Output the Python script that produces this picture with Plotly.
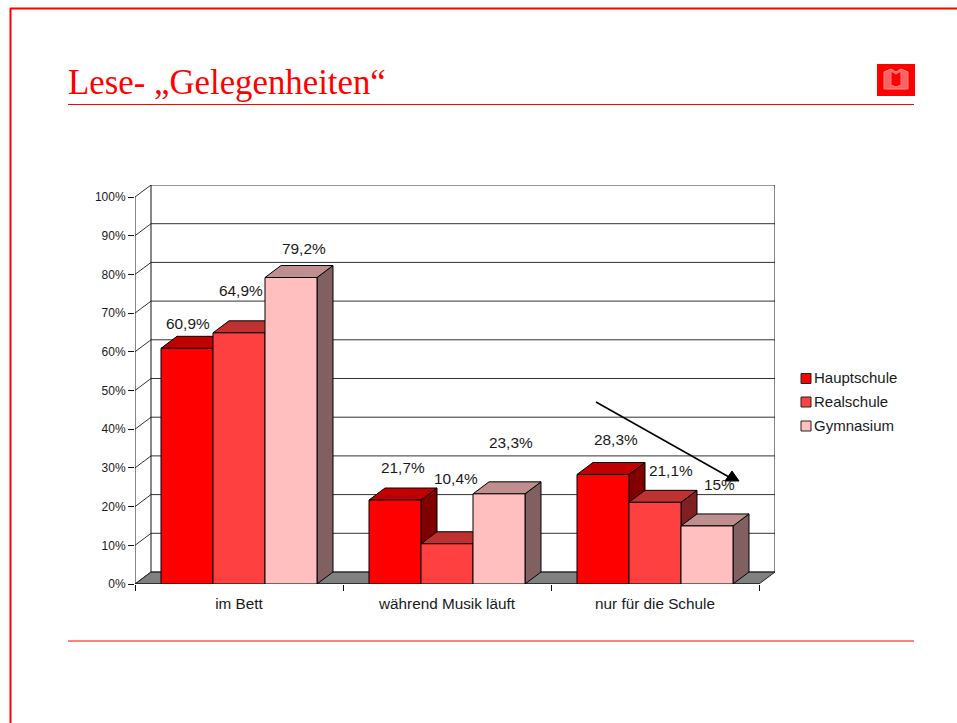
import plotly.graph_objects as go

# ---- chart values ----
categories = ["im Bett", "während Musik läuft", "nur für die Schule"]
series_names = ["Hauptschule", "Realschule", "Gymnasium"]
hauptschule = [60.9, 21.7, 28.3]
realschule = [64.9, 10.4, 21.1]
gymnasium = [79.2, 23.3, 15.0]
label_texts = [
    ["60,9%", "21,7%", "28,3%"],
    ["64,9%", "10,4%", "21,1%"],
    ["79,2%", "23,3%", "15%"],
]
y_ticks = list(range(0, 101, 10))
y_tick_labels = ["0%", "10%", "20%", "30%", "40%", "50%", "60%", "70%", "80%", "90%", "100%"]

# ---- styles ----
front_colors = ["#FF0000", "#FF4040", "#FFBFBF"]
top_colors = ["#C00000", "#BF3030", "#BF8F8F"]
side_colors = ["#800000", "#802020", "#806060"]
label_dx = [[1, 8, 13], [2, 9, 16], [13, 12, 12]]
label_dy = [[25, 33, 35], [42, 65, 32], [29, 51, 41]]
FONT = "Liberation Sans"
RED = "#FF0000"

# ---- layout geometry (page pixels) ----
W, H = 957, 723
LEFT, RIGHT, TOP, BOTTOM = 135, 775, 185, 584
DX = 16 / 208          # depth of the 3D box, in category units
DY = 12 / 3.87         # depth of the 3D box, in percent units
BAR_W = 0.25
Y_MAX = (BOTTOM - TOP) / 3.87
X_MAX = 3 + DX


def px(x):
    return (x - LEFT) / (RIGHT - LEFT)


def py(y):
    return (BOTTOM - y) / (BOTTOM - TOP)


series = [hauptschule, realschule, gymnasium]
centers = [i + 0.5 for i in range(len(categories))]
fig = go.Figure()
skip = dict(showlegend=False, hoverinfo="skip", cliponaxis=False)

# floor
fig.add_trace(go.Scatter(x=[0, 3, 3 + DX, DX, 0], y=[0, 0, DY, DY, 0], mode="lines", fill="toself",
                         fillcolor="#808080", line=dict(color="#222222", width=1), **skip))

# gridlines on side wall and back wall
gx, gy = [], []
for v in y_ticks:
    gx += [0, DX, X_MAX, None]
    gy += [v, v + DY, v + DY, None]
fig.add_trace(go.Scatter(x=gx, y=gy, mode="lines", line=dict(color="#333333", width=1), **skip))
# wall verticals, front axis lines
fig.add_trace(go.Scatter(x=[DX, DX, None, X_MAX, X_MAX, None, 0, 0, None, 0, 3],
                         y=[DY, 100 + DY, None, DY, 100 + DY, None, 0, 100, None, 0, 0],
                         mode="lines", line=dict(color="#111111", width=1), **skip))

# side and top faces, drawn left to right
for g, c in enumerate(centers):
    for s, vals in enumerate(series):
        v = vals[g]
        x0 = c - 0.375 + s * BAR_W
        x1 = x0 + BAR_W
        fig.add_trace(go.Scatter(x=[x1, x1 + DX, x1 + DX, x1, x1], y=[0, DY, v + DY, v, 0], mode="lines",
                                 fill="toself", fillcolor=side_colors[s],
                                 line=dict(color="#000000", width=1), **skip))
        fig.add_trace(go.Scatter(x=[x0, x0 + DX, x1 + DX, x1, x0], y=[v, v + DY, v + DY, v, v], mode="lines",
                                 fill="toself", fillcolor=top_colors[s],
                                 line=dict(color="#000000", width=1), **skip))

# front faces, on an overlaid copy of the axes so they sit above the side faces
for s, vals in enumerate(series):
    fig.add_trace(go.Bar(x=centers, y=vals, name=series_names[s], xaxis="x2", yaxis="y2",
                         marker=dict(color=front_colors[s], line=dict(color="#000000", width=1)),
                         showlegend=False, cliponaxis=False))

annotations = []
for s, vals in enumerate(series):
    for g, c in enumerate(centers):
        annotations.append(dict(x=c - 0.25 + s * BAR_W, y=vals[g], xref="x", yref="y", text=label_texts[s][g],
                                showarrow=False, xanchor="center", yanchor="middle",
                                xshift=label_dx[s][g], yshift=label_dy[s][g],
                                font=dict(family=FONT, size=15.4, color="#1a1a1a")))

# title
annotations.append(dict(x=px(66), y=py(83), xref="paper", yref="paper", text="Lese- „Gelegenheiten“",
                        showarrow=False, xanchor="left", yanchor="middle",
                        font=dict(family="Liberation Serif", size=34.8, color=RED)))

# legend
legend_y = [378.5, 402, 426]
shapes = []
for s, name in enumerate(series_names):
    annotations.append(dict(x=px(812), y=py(legend_y[s] - 1), xref="paper", yref="paper", text=name, showarrow=False,
                            xanchor="left", yanchor="middle",
                            font=dict(family=FONT, size=15, color="#1a1a1a")))
    shapes.append(dict(type="rect", xref="paper", yref="paper", x0=px(801), x1=px(811),
                       y0=py(legend_y[s] - 5), y1=py(legend_y[s] + 5), fillcolor=front_colors[s],
                       line=dict(color="#222222", width=1)))


def line(x0, y0, x1, y1, color=RED, width=1.0):
    return dict(type="line", xref="paper", yref="paper", x0=px(x0), y0=py(y0), x1=px(x1), y1=py(y1),
                line=dict(color=color, width=width))


def path(points, fill, color, width=1.0):
    d = "M" + " L".join(f"{px(a):.5f},{py(b):.5f}" for a, b in points) + " Z"
    return dict(type="path", xref="paper", yref="paper", path=d, fillcolor=fill, line=dict(color=color, width=width))


# slide frame and rules
shapes += [
    line(10, 8.5, 957, 8.5, width=2),
    line(10.5, 8, 10.5, 723, width=2),
    line(68, 104.5, 914, 104.5),
    line(68, 641, 914, 641, color=RED),
]
# book icon
shapes.append(dict(type="rect", xref="paper", yref="paper", x0=px(877), x1=px(915), y0=py(64), y1=py(96),
                   fillcolor=RED, line=dict(width=0)))
shapes.append(path([(884, 72), (891, 69), (896, 72), (901, 69), (908, 72), (908, 89), (884, 89)],
                   "#FF6060", "#FF9090"))
shapes.append(path([(891, 71), (891, 85), (896, 87), (901, 85), (901, 71), (896, 74)], RED, "#FF8080"))
# arrow
shapes.append(line(596, 402, 729, 477, color="#000000", width=1.5))
shapes.append(path([(732, 471), (739, 481), (725, 481)], "#000000", "#000000"))

axis_common = dict(showgrid=False, zeroline=False, showline=False)
fig.update_layout(
    width=W, height=H, autosize=False,
    margin=dict(l=LEFT, r=W - RIGHT, t=TOP, b=H - BOTTOM, pad=0),
    paper_bgcolor="white", plot_bgcolor="white",
    barmode="group", bargap=0.25, bargroupgap=0,
    showlegend=False,
    font=dict(family=FONT, color="#000000"),
    xaxis=dict(range=[0, X_MAX], tickmode="array", tickvals=centers, ticktext=categories,
               ticks="outside", ticklen=6, tickcolor="rgba(0,0,0,0)",
               minor=dict(tickmode="array", tickvals=[0, 1, 2, 3], ticks="outside", ticklen=6,
                          tickcolor="#111111", tickwidth=1, showgrid=False),
               tickfont=dict(family=FONT, size=15.3, color="#1a1a1a"), **axis_common),
    yaxis=dict(range=[0, Y_MAX], tickmode="array", tickvals=y_ticks, ticktext=y_tick_labels,
               ticks="outside", ticklen=6, tickcolor="#111111", tickwidth=1,
               tickfont=dict(family=FONT, size=12, color="#1a1a1a"), **axis_common),
    xaxis2=dict(range=[0, X_MAX], overlaying="x", visible=False),
    yaxis2=dict(range=[0, Y_MAX], overlaying="y", visible=False),
    annotations=annotations,
    shapes=shapes,
)

fig.write_html("out.html", config=dict(displayModeBar=False),
               post_script="document.body.style.margin='0';document.body.style.overflow='hidden';")
